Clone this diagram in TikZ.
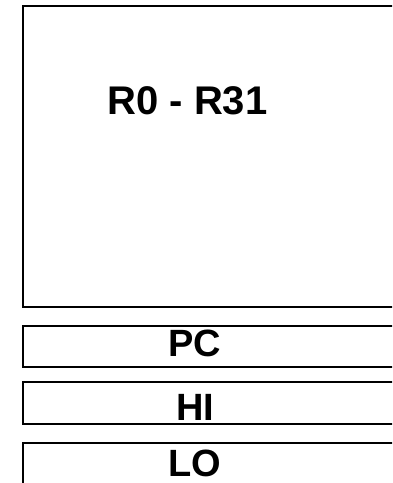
\documentclass[tikz,border=0pt]{standalone}
\usepackage{fontspec}
\setmainfont{Liberation Sans}
\begin{document}
\begin{tikzpicture}[x=1pt,y=1pt,
  regbox/.style={draw=black, line width=2pt, inner sep=0pt, outer sep=0pt, anchor=north west, minimum width=400pt},
  biglabel/.style={font=\fontsize{40}{40}\selectfont\bfseries, anchor=base, inner sep=0pt},
  smalllabel/.style={font=\fontsize{38}{38}\selectfont\bfseries, anchor=base, inner sep=0pt}]
\useasboundingbox (0,0) rectangle (392,483);
\clip (0,0) rectangle (392,483);
\node[regbox, minimum height=301pt] (regs) at (22.5,477) {};
\node[regbox, minimum height=41pt] (pc) at (22.5,157) {};
\node[regbox, minimum height=42pt] (hi) at (22.5,100.5) {};
\node[regbox, minimum height=60pt] (lo) at (22.5,39.7) {};
\node[biglabel] (regslabel) at (187.5,368) {R0 - R31};
\node[smalllabel] (pclabel) at (195,126) {PC};
\node[smalllabel] (hilabel) at (195,63) {HI};
\node[smalllabel] (lolabel) at (195,6.3) {LO};
\end{tikzpicture}
\end{document}
